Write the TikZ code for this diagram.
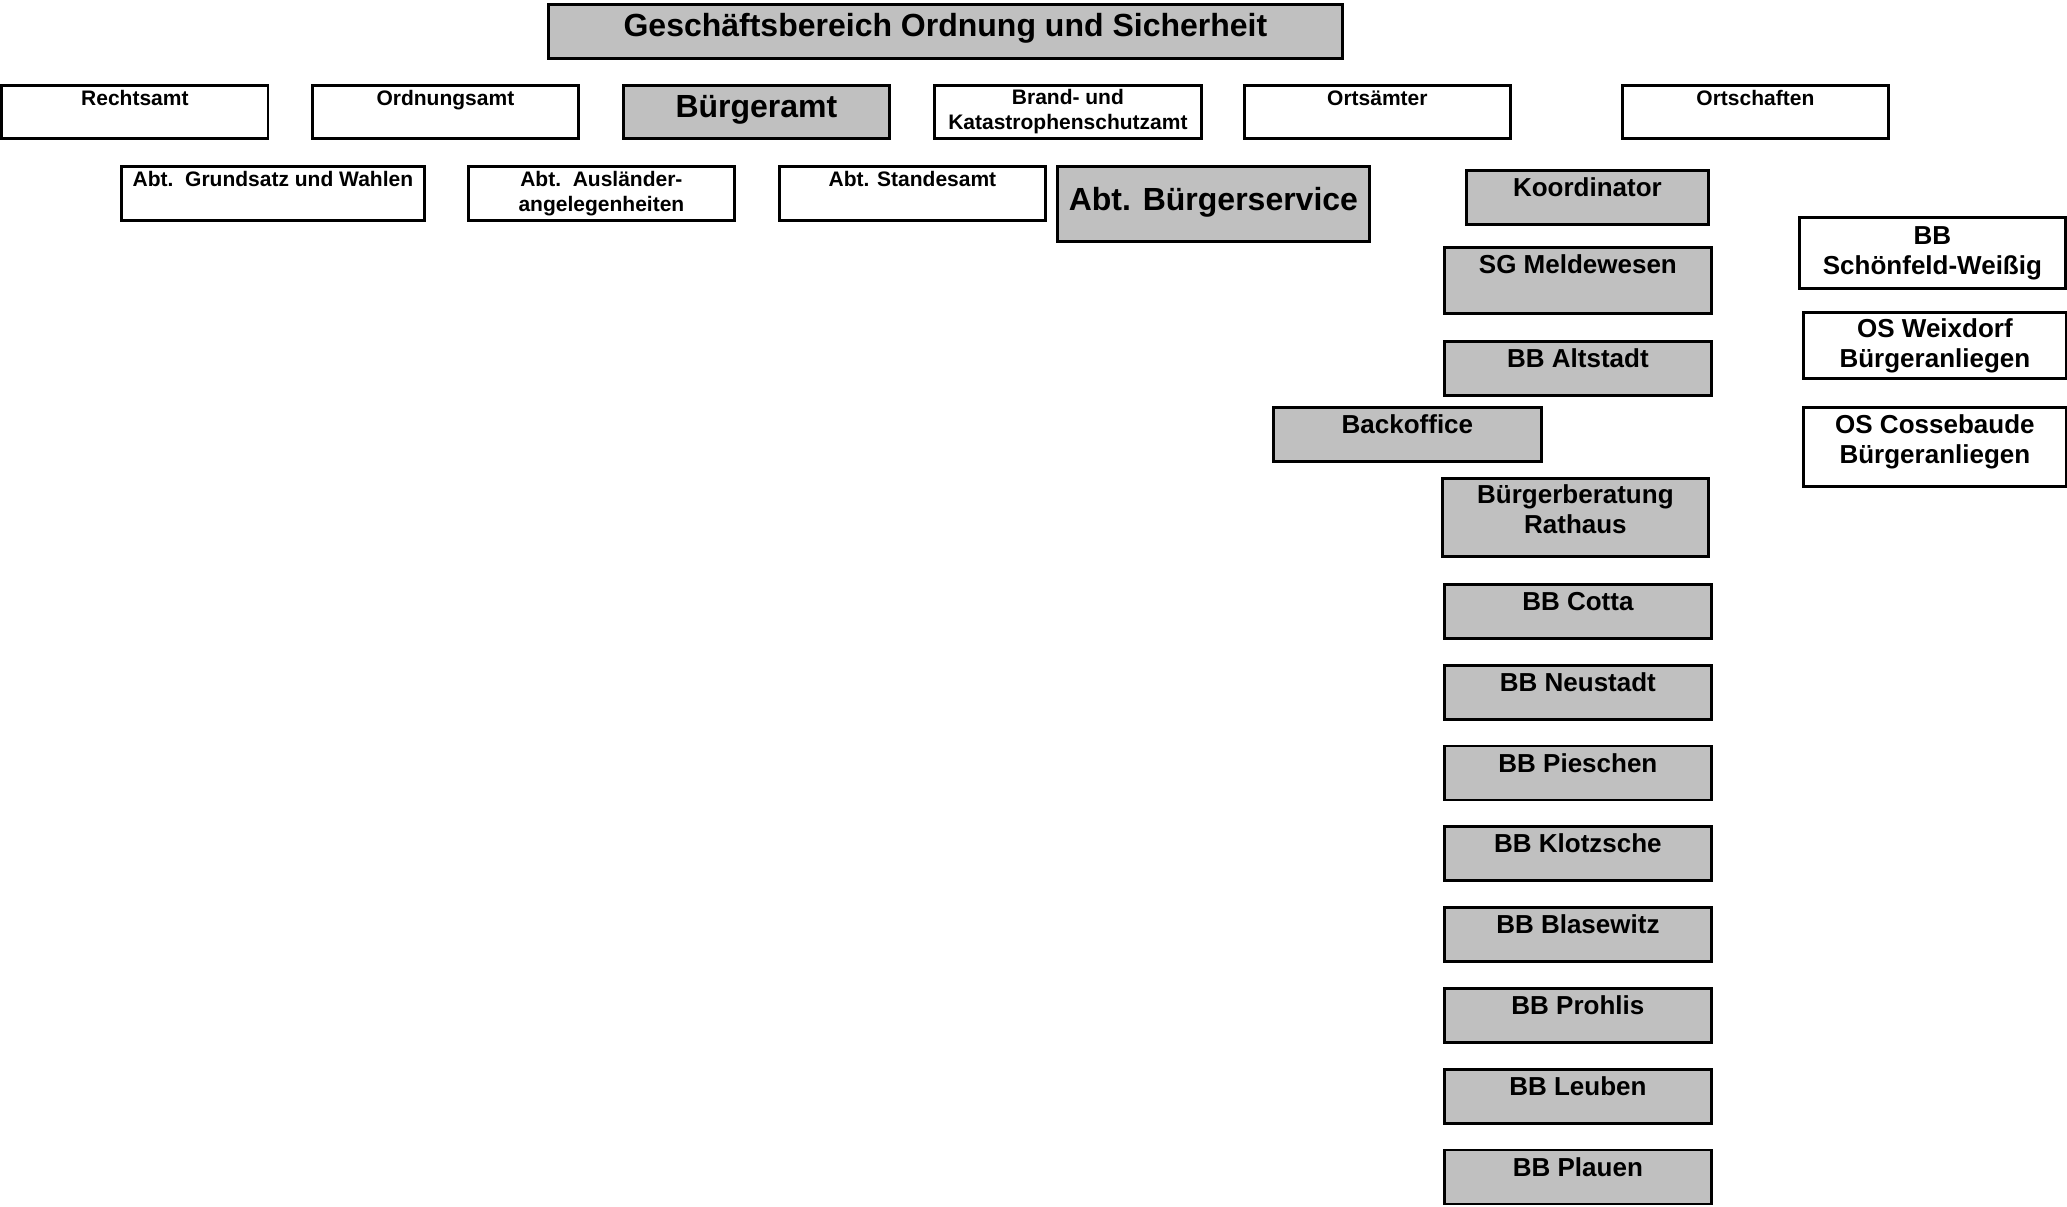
\documentclass[tikz,border=0pt]{standalone}
\usepackage{fontspec}
\setmainfont{Liberation Sans}
\usepackage{tikz}
\usetikzlibrary{positioning}
\definecolor{boxgray}{RGB}{192,192,192}

\begin{document}
\begin{tikzpicture}[
    x=1pt, y=-1pt,
    every node/.style={inner sep=0pt, align=center, anchor=north west},
    unit/.style={rectangle, draw=black, line width=2.8pt, fill=white},
    grayunit/.style={unit, fill=boxgray},
    smalltxt/.style={font=\fontsize{21}{25}\selectfont\bfseries},
    midtxt/.style={font=\fontsize{26}{30}\selectfont\bfseries},
    bigtxt/.style={font=\fontsize{32}{38}\selectfont\bfseries},
    office/.style={unit, smalltxt, minimum width=266pt, minimum height=53pt, text height=20pt, text depth=33pt},
    branch/.style={grayunit, midtxt, minimum width=267pt, minimum height=54pt, text height=26pt, text depth=28pt}
]
\useasboundingbox (0,0) rectangle (2067,1207);

% Top
\node[grayunit, bigtxt, minimum width=794pt, minimum height=54pt, text height=32.5pt, text depth=21.5pt] (gb) at (547,3) {Geschäftsbereich Ordnung und Sicherheit};

% Aemter
\node[office] (recht) at (0.5,84) {Rechtsamt};
\node[office] (ordnung) at (311,84) {Ordnungsamt};
\node[grayunit, bigtxt, minimum width=266pt, minimum height=53pt, text height=32pt, text depth=21pt] (buergeramt) at (622,84) {Bürgeramt};
\node[unit, smalltxt, minimum width=267pt, minimum height=53pt] (brand) at (933,84) {Brand- und\\Katastrophenschutzamt};
\node[office] (ortsaemter) at (1243,84) {Ortsämter};
\node[office] (ortschaften) at (1621,84) {Ortschaften};

% Abteilungen
\node[office, minimum width=303pt, text depth=34pt] (grundsatz) at (120,165) {Abt.\ \ Grundsatz und Wahlen};
\node[unit, smalltxt, minimum width=266pt, minimum height=54pt] (auslaender) at (467,165) {Abt.\ \ Ausländer-\\angelegenheiten};
\node[office, text depth=34pt] (standesamt) at (778,165) {Abt. Standesamt};
\node[grayunit, bigtxt, minimum width=312pt, minimum height=75pt, text height=44.5pt, text depth=30.5pt] (service) at (1056,165) {Abt. Bürgerservice};

% Buergerservice
\node[branch, minimum width=242pt] (koord) at (1465,169) {Koordinator};
\node[branch, text depth=40pt] (melde) at (1443,246) {SG Meldewesen};
\node[branch] (altstadt) at (1443,340) {BB Altstadt};
\node[branch, minimum width=268pt] (backoffice) at (1272,406) {Backoffice};
\node[grayunit, midtxt, minimum width=266pt, minimum height=78pt, text depth=16pt] (rathaus) at (1441,477) {Bürgerberatung\\Rathaus};
\node[branch] (cotta) at (1443,583) {BB Cotta};
\node[branch, below=24pt of cotta] (neustadt) {BB Neustadt};
\node[branch, below=24pt of neustadt] (pieschen) {BB Pieschen};
\node[branch, below=24pt of pieschen] (klotzsche) {BB Klotzsche};
\node[branch, below=24pt of klotzsche] (blasewitz) {BB Blasewitz};
\node[branch, below=24pt of blasewitz] (prohlis) {BB Prohlis};
\node[branch, below=24pt of prohlis] (leuben) {BB Leuben};
\node[branch, below=24pt of leuben] (plauen) {BB Plauen};

% Ortschaften
\node[unit, midtxt, minimum width=266pt, minimum height=71pt] (schoenfeld) at (1798,216) {BB\\Schönfeld-Weißig};
\node[unit, midtxt, minimum width=263pt, minimum height=66pt] (weixdorf) at (1802,311) {OS Weixdorf\\Bürgeranliegen};
\node[unit, midtxt, minimum width=263pt, minimum height=79pt, text depth=16pt] (cossebaude) at (1802,406) {OS Cossebaude\\Bürgeranliegen};

\end{tikzpicture}
\end{document}
